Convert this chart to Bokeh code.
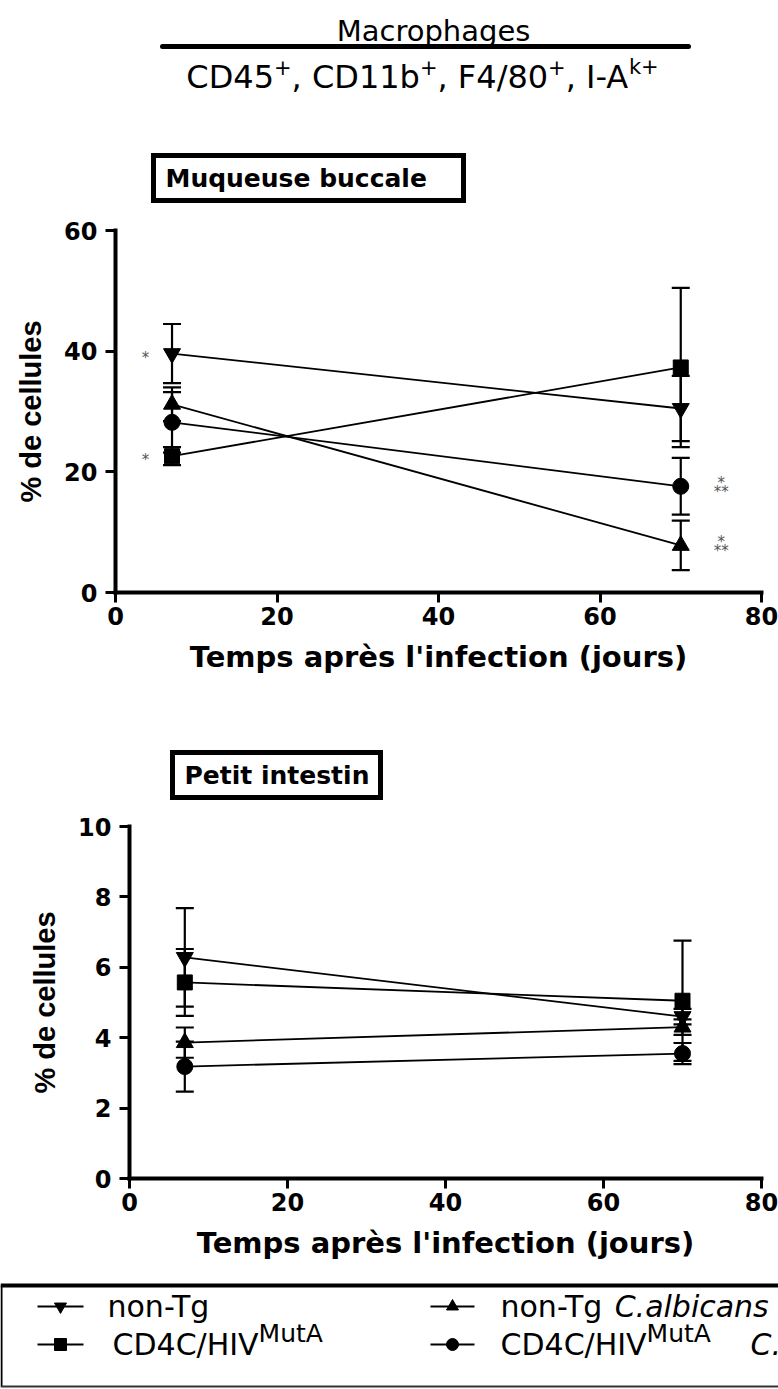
from bokeh.plotting import figure
from bokeh.models import Range1d, FixedTicker
from bokeh.core.properties import value
from bokeh.embed import file_html
from bokeh.resources import INLINE

W = 778

# ---------------------------------------------------------------- data
days = [7, 70]
x_ticks = [0, 20, 40, 60, 80]

# Muqueuse buccale: mean and SEM (% de cellules)
mb_nontg = [39.6, 30.5]
mb_nontg_sem = [4.9, 5.4]
mb_nontg_ca = [31.2, 7.8]
mb_nontg_ca_sem = [2.8, 4.1]
mb_cd4c = [22.6, 37.3]
mb_cd4c_sem = [1.5, 13.2]
mb_cd4c_ca = [28.2, 17.6]
mb_cd4c_ca_sem = [5.0, 4.7]
mb_y_ticks = [0, 20, 40, 60]

# Petit intestin: mean and SEM (% de cellules)
pi_nontg = [6.28, 4.60]
pi_nontg_sem = [1.40, 0.22]
pi_nontg_ca = [3.86, 4.30]
pi_nontg_ca_sem = [0.43, 0.22]
pi_cd4c = [5.57, 5.05]
pi_cd4c_sem = [0.95, 1.71]
pi_cd4c_ca = [3.18, 3.55]
pi_cd4c_ca_sem = [0.71, 0.30]
pi_y_ticks = [0, 2, 4, 6, 8, 10]

group_markers = {"non-Tg": ("inverted_triangle", 17),
                 "non-Tg Ca": ("triangle", 17),
                 "CD4C": ("square", 15),
                 "CD4C Ca": ("circle", 16)}

FONT = "DejaVu Sans"
YFONT = "Liberation Sans"

# DejaVu Sans advance widths (em) for laying out runs of text
DV = {" ": .318, "+": .838, ",": .318, "-": .361, ".": .318, "/": .337,
      "A": .684, "C": .698, "D": .770, "F": .575, "H": .752, "I": .295,
      "M": .863, "T": .611, "V": .684, "a": .613, "b": .635, "c": .550,
      "g": .635, "i": .278, "k": .579, "l": .278, "n": .634, "o": .612,
      "s": .521, "t": .392, "u": .634, "e": .615, "h": .634, "p": .635,
      "r": .411}
for d in "0123456789":
    DV[d] = .636


def text_width(s, size):
    return sum(DV.get(c, .6) for c in s) * size


def canvas(h):
    p = figure(width=W, height=h, x_range=Range1d(0, W), y_range=Range1d(h, 0),
               x_axis_type=None, y_axis_type=None, output_backend="svg",
               toolbar_location=None, min_border=0)
    p.outline_line_color = None
    p.grid.visible = False
    return p


def runs(p, x0, y, parts, size, sup_size, sup_rise, font=FONT):
    """Draw consecutive text runs; parts are (text, superscript?, italic?)."""
    x = x0
    for txt, sup, ital in parts:
        fs = sup_size if sup else size
        p.text(x=[x], y=[y - (sup_rise if sup else 0)], text=[txt],
               text_font=value(font), text_font_size=f"{fs}px",
               text_font_style="italic" if ital else "normal",
               text_align="left", text_baseline="middle", text_color="black")
        x += text_width(txt, fs)
    return x


# ---------------------------------------------------------------- header
header = canvas(140)
header.text(x=[433], y=[30], text=["Macrophages"], text_font=value(FONT),
            text_font_size="29px", text_align="center", text_baseline="middle",
            text_color="black")
header.segment(x0=[162], y0=[46], x1=[688], y1=[46], line_width=5,
               line_color="black", line_cap="round")
cd_parts = [("CD45", False, False), ("+", True, False), (", CD11b", False, False),
            ("+", True, False), (", F4/80", False, False), ("+", True, False),
            (", I-A", False, False), ("k+", True, False)]
cd_w = sum(text_width(t, 21 if s else 32) for t, s, _ in cd_parts)
runs(header, 422 - cd_w / 2, 76, cd_parts, 32, 21, 10)


# ---------------------------------------------------------------- panel titles
def title_strip(h, left, right, top, bottom, label):
    p = canvas(h)
    p.quad(left=[left], right=[right], top=[top], bottom=[bottom],
           fill_color=None, line_color="black", line_width=5, line_join="miter")
    p.text(x=[left + 12], y=[(top + bottom) / 2], text=[label],
           text_font=value(FONT), text_font_style="bold", text_font_size="25px",
           text_align="left", text_baseline="middle", text_color="black")
    return p


strip_top = title_strip(75, 153, 463, 15, 60, "Muqueuse buccale")
strip_bottom = title_strip(112, 172, 380, 52, 97, "Petit intestin")


# ---------------------------------------------------------------- panels
def panel(height, top, frame_h, left, ymax, yticks, series, stars):
    p = figure(width=W, height=height, x_range=Range1d(0, 80),
               y_range=Range1d(0, ymax), output_backend="svg",
               toolbar_location=None, min_border_left=left,
               min_border_right=17, min_border_top=top,
               min_border_bottom=height - top - frame_h)
    p.outline_line_color = None
    p.grid.visible = False
    p.xaxis.ticker = FixedTicker(ticks=x_ticks)
    p.yaxis.ticker = FixedTicker(ticks=yticks)
    p.xaxis.axis_label = "Temps après l'infection (jours)"
    p.yaxis.axis_label = "% de cellules"
    for ax in (p.xaxis[0], p.yaxis[0]):
        ax.axis_line_width = 4
        ax.axis_line_cap = "square"
        ax.axis_line_color = "black"
        ax.major_tick_line_width = 3
        ax.major_tick_line_color = "black"
        ax.major_tick_out = 10
        ax.major_tick_in = 0
        ax.minor_tick_line_color = None
        ax.major_label_text_font = FONT
        ax.major_label_text_font_style = "bold"
        ax.major_label_text_font_size = "24px"
        ax.major_label_text_color = "black"
        ax.axis_label_text_font_style = "bold"
        ax.axis_label_text_font_size = "29px"
        ax.axis_label_text_color = "black"
    p.xaxis[0].axis_label_text_font = FONT
    p.xaxis[0].major_label_standoff = 4
    p.xaxis[0].axis_label_standoff = 12
    p.yaxis[0].axis_label_text_font = YFONT
    p.yaxis[0].major_label_standoff = 8
    p.yaxis[0].axis_label_standoff = 14

    # error bars first, then connecting lines, then symbols
    for key, vals, sems in series:
        lo = [v - s for v, s in zip(vals, sems)]
        hi = [v + s for v, s in zip(vals, sems)]
        p.segment(x0=days, y0=lo, x1=days, y1=hi, line_width=2.2,
                  line_color="black")
        p.scatter(days + days, lo + hi, marker="dash", size=18,
                  line_width=2.2, line_color="black")
    for key, vals, sems in series:
        p.line(days, vals, line_width=1.8, line_color="black")
    for key, vals, sems in series:
        mk, sz = group_markers[key]
        p.scatter(days, vals, marker=mk, size=sz, fill_color="black",
                  line_color="black")

    for xs, ys, txt, off in stars:
        p.text(x=xs, y=ys, text=[txt] * len(xs), y_offset=off,
               text_font=value(FONT), text_font_size="15px",
               text_color="#555555", text_align="center",
               text_baseline="middle")
    return p


mb_series = [("non-Tg", mb_nontg, mb_nontg_sem),
             ("non-Tg Ca", mb_nontg_ca, mb_nontg_ca_sem),
             ("CD4C Ca", mb_cd4c_ca, mb_cd4c_ca_sem),
             ("CD4C", mb_cd4c, mb_cd4c_sem)]
pi_series = [("non-Tg", pi_nontg, pi_nontg_sem),
             ("non-Tg Ca", pi_nontg_ca, pi_nontg_ca_sem),
             ("CD4C Ca", pi_cd4c_ca, pi_cd4c_ca_sem),
             ("CD4C", pi_cd4c, pi_cd4c_sem)]

# significance marks beside the points
left_x = days[0] - 3.3
right_x = days[1] + 5.0
mb_stars = [
    ([left_x, left_x], [mb_nontg[0], mb_cd4c[0]], "*", 4),
    ([right_x, right_x], [mb_cd4c_ca[1], mb_nontg_ca[1]], "*", -3),
    ([right_x, right_x], [mb_cd4c_ca[1], mb_nontg_ca[1]], "**", 6),
]

top_panel = panel(485, 15, 362, 115, 60, mb_y_ticks, mb_series, mb_stars)
bottom_panel = panel(466, 14, 352, 129, 10, pi_y_ticks, pi_series, [])

# ---------------------------------------------------------------- legend
leg = canvas(111)
leg.segment(x0=[0], y0=[7], x1=[W], y1=[7], line_width=4, line_color="black")
leg.segment(x0=[1], y0=[7], x1=[1], y1=[108], line_width=2, line_color="black")
leg.segment(x0=[0], y0=[108], x1=[W], y1=[108], line_width=2, line_color="#333333")

row_y = [28, 66]
col_sym = [(60, 23), (452, 22)]
leg_items = [("non-Tg", 0, 0), ("CD4C", 0, 1), ("non-Tg Ca", 1, 0), ("CD4C Ca", 1, 1)]
for key, col, row in leg_items:
    cx, half = col_sym[col]
    yy = row_y[row]
    mk, _ = group_markers[key]
    leg.segment(x0=[cx - half], y0=[yy], x1=[cx + half], y1=[yy],
                line_width=2, line_color="black")
    leg.scatter([cx], [yy], marker=mk, size=12, fill_color="black",
                line_color="black")

runs(leg, 107, row_y[0], [("non-Tg", False, False)], 30, 24, 11)
runs(leg, 112, row_y[1], [("CD4C/HIV", False, False), ("MutA", True, False)],
     30, 25, 11)
runs(leg, 500, row_y[0], [("non-Tg ", False, False), ("C.albicans", False, True)],
     30, 24, 11)
runs(leg, 500, row_y[1], [("CD4C/HIV", False, False), ("MutA", True, False)],
     30, 25, 11)
runs(leg, 750, row_y[1], [("C.", False, True)], 30, 24, 11)

# each block is its own root so the frames keep their own margins
blocks = [header, strip_top, top_panel, strip_bottom, bottom_panel, leg]

with open("out.html", "w") as f:
    f.write(file_html(blocks, INLINE))
